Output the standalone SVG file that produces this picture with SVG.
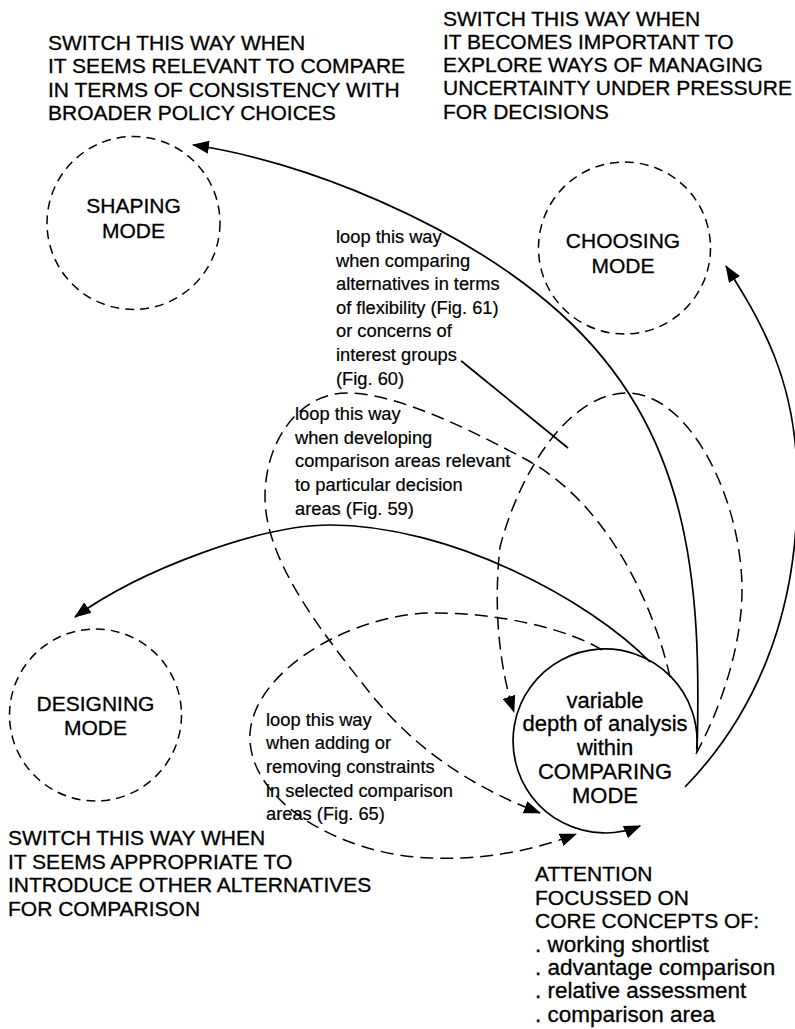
<svg xmlns="http://www.w3.org/2000/svg" width="795" height="1029" viewBox="0 0 795 1029">
<style>
text{font-family:"Liberation Sans",Arial,Helvetica,sans-serif;fill:#000;stroke:#000;stroke-width:0.3}
.caps{font-size:21px}
.bul{font-size:22.5px}
.small{font-size:18.3px;stroke-width:0.2}
.mode{font-size:21px;text-anchor:middle}
.cmp{font-size:22px;text-anchor:middle}
.dc{fill:none;stroke:#000;stroke-width:1.5;stroke-dasharray:9 6}
.conn{fill:none;stroke:#000;stroke-width:1.7}
.loop{fill:none;stroke:#000;stroke-width:1.5;stroke-dasharray:13 7}
</style>
<defs>
<marker id="ah" viewBox="0 0 17 13" refX="16" refY="6.5" markerWidth="17" markerHeight="13" orient="auto" markerUnits="userSpaceOnUse"><path d="M0,0 L17,6.5 L0,13 z" fill="#000"/></marker>
</defs>
<rect width="795" height="1029" fill="#fff"/>

<g id="shaping">
<circle class="dc" cx="133.5" cy="223" r="86.5"/>
<text class="mode" x="133.5" y="213">SHAPING</text>
<text class="mode" x="133.5" y="237.5">MODE</text>
</g>
<g id="choosing">
<circle class="dc" cx="624.5" cy="248" r="86"/>
<text class="mode" x="623" y="248">CHOOSING</text>
<text class="mode" x="623" y="272.5">MODE</text>
</g>
<g id="designing">
<circle class="dc" cx="95.5" cy="715" r="86"/>
<text class="mode" x="95.5" y="711">DESIGNING</text>
<text class="mode" x="95.5" y="735">MODE</text>
</g>
<g id="comparing">
<path class="conn" d="M696.7,749 A92,92 0 1 0 640.2,826" marker-end="url(#ah)"/>
<text class="cmp" x="605" y="707.5">variable</text>
<text class="cmp" x="605" y="731">depth of analysis</text>
<text class="cmp" x="605" y="755">within</text>
<text class="cmp" x="605" y="779">COMPARING</text>
<text class="cmp" x="605" y="802.5">MODE</text>
</g>

<g id="connectors">
<path class="conn" d="M697,752 C702,580 690,430 560,313 C460,223 300,160 193,145" marker-end="url(#ah)"/>
<path class="conn" d="M650,662 C590,600 450,525 330,525 C260,525 140,570 75,617" marker-end="url(#ah)"/>
<path class="conn" d="M685,787 C750,720 800,620 797,480 C797,380 760,320 726,266" marker-end="url(#ah)"/>
<path class="loop" d="M696,754 C725,700 742,640 742,590 C742,500 690,393 627,393 C570,393 520,470 500,547 C493,610 500,670 514,712" marker-end="url(#ah)"/>
<path class="loop" d="M670,677 C655,610 610,505 527,460 C480,435 400,393 347,393 C300,393 265,440 265,497 C265,560 320,630 370,693 C420,755 480,790 540,813" marker-end="url(#ah)"/>
<path class="loop" d="M602,650 C570,630 500,612 430,613 C350,615 255,670 250,733 C246,800 340,855 430,858 C480,860 530,852 576,834" marker-end="url(#ah)"/>
<path class="conn" d="M461,361 Q463,362 465,364 L568,448"/>
</g>

<g id="note-shaping">
<text class="caps" x="48" y="49.5">SWITCH THIS WAY WHEN</text>
<text class="caps" x="48" y="73">IT SEEMS RELEVANT TO COMPARE</text>
<text class="caps" x="48" y="96.5">IN TERMS OF CONSISTENCY WITH</text>
<text class="caps" x="48" y="120">BROADER POLICY CHOICES</text>
</g>
<g id="note-choosing">
<text class="caps" x="443" y="26">SWITCH THIS WAY WHEN</text>
<text class="caps" x="443" y="48.5">IT BECOMES IMPORTANT TO</text>
<text class="caps" x="443" y="72">EXPLORE WAYS OF MANAGING</text>
<text class="caps" x="443" y="95">UNCERTAINTY UNDER PRESSURE</text>
<text class="caps" x="443" y="118.5">FOR DECISIONS</text>
</g>
<g id="note-designing">
<text class="caps" x="8" y="845">SWITCH THIS WAY WHEN</text>
<text class="caps" x="8" y="868.5">IT SEEMS APPROPRIATE TO</text>
<text class="caps" x="8" y="892">INTRODUCE OTHER ALTERNATIVES</text>
<text class="caps" x="8" y="915.5">FOR COMPARISON</text>
</g>
<g id="note-attention">
<text class="caps" x="535" y="881">ATTENTION</text>
<text class="caps" x="535" y="904.5">FOCUSSED ON</text>
<text class="caps" x="535" y="928">CORE CONCEPTS OF:</text>
<text class="bul" x="535" y="951.5">. working shortlist</text>
<text class="bul" x="535" y="975">. advantage comparison</text>
<text class="bul" x="535" y="998">. relative assessment</text>
<text class="bul" x="535" y="1021.5">. comparison area</text>
</g>
<g id="label-loop-flexibility">
<text class="small" x="336" y="243">loop this way</text>
<text class="small" x="336" y="266.7">when comparing</text>
<text class="small" x="336" y="290">alternatives in terms</text>
<text class="small" x="336" y="313.5">of flexibility (Fig. 61)</text>
<text class="small" x="336" y="337">or concerns of</text>
<text class="small" x="336" y="361">interest groups</text>
<text class="small" x="336" y="385">(Fig. 60)</text>
</g>
<g id="label-loop-developing">
<text class="small" x="295" y="420">loop this way</text>
<text class="small" x="295" y="444">when developing</text>
<text class="small" x="295" y="467">comparison areas relevant</text>
<text class="small" x="295" y="490.7">to particular decision</text>
<text class="small" x="295" y="515">areas (Fig. 59)</text>
</g>
<g id="label-loop-constraints">
<text class="small" x="266" y="726">loop this way</text>
<text class="small" x="266" y="749">when adding or</text>
<text class="small" x="266" y="772.7">removing constraints</text>
<text class="small" x="266" y="796.7">in selected comparison</text>
<text class="small" x="266" y="820">areas (Fig. 65)</text>
</g>
</svg>
